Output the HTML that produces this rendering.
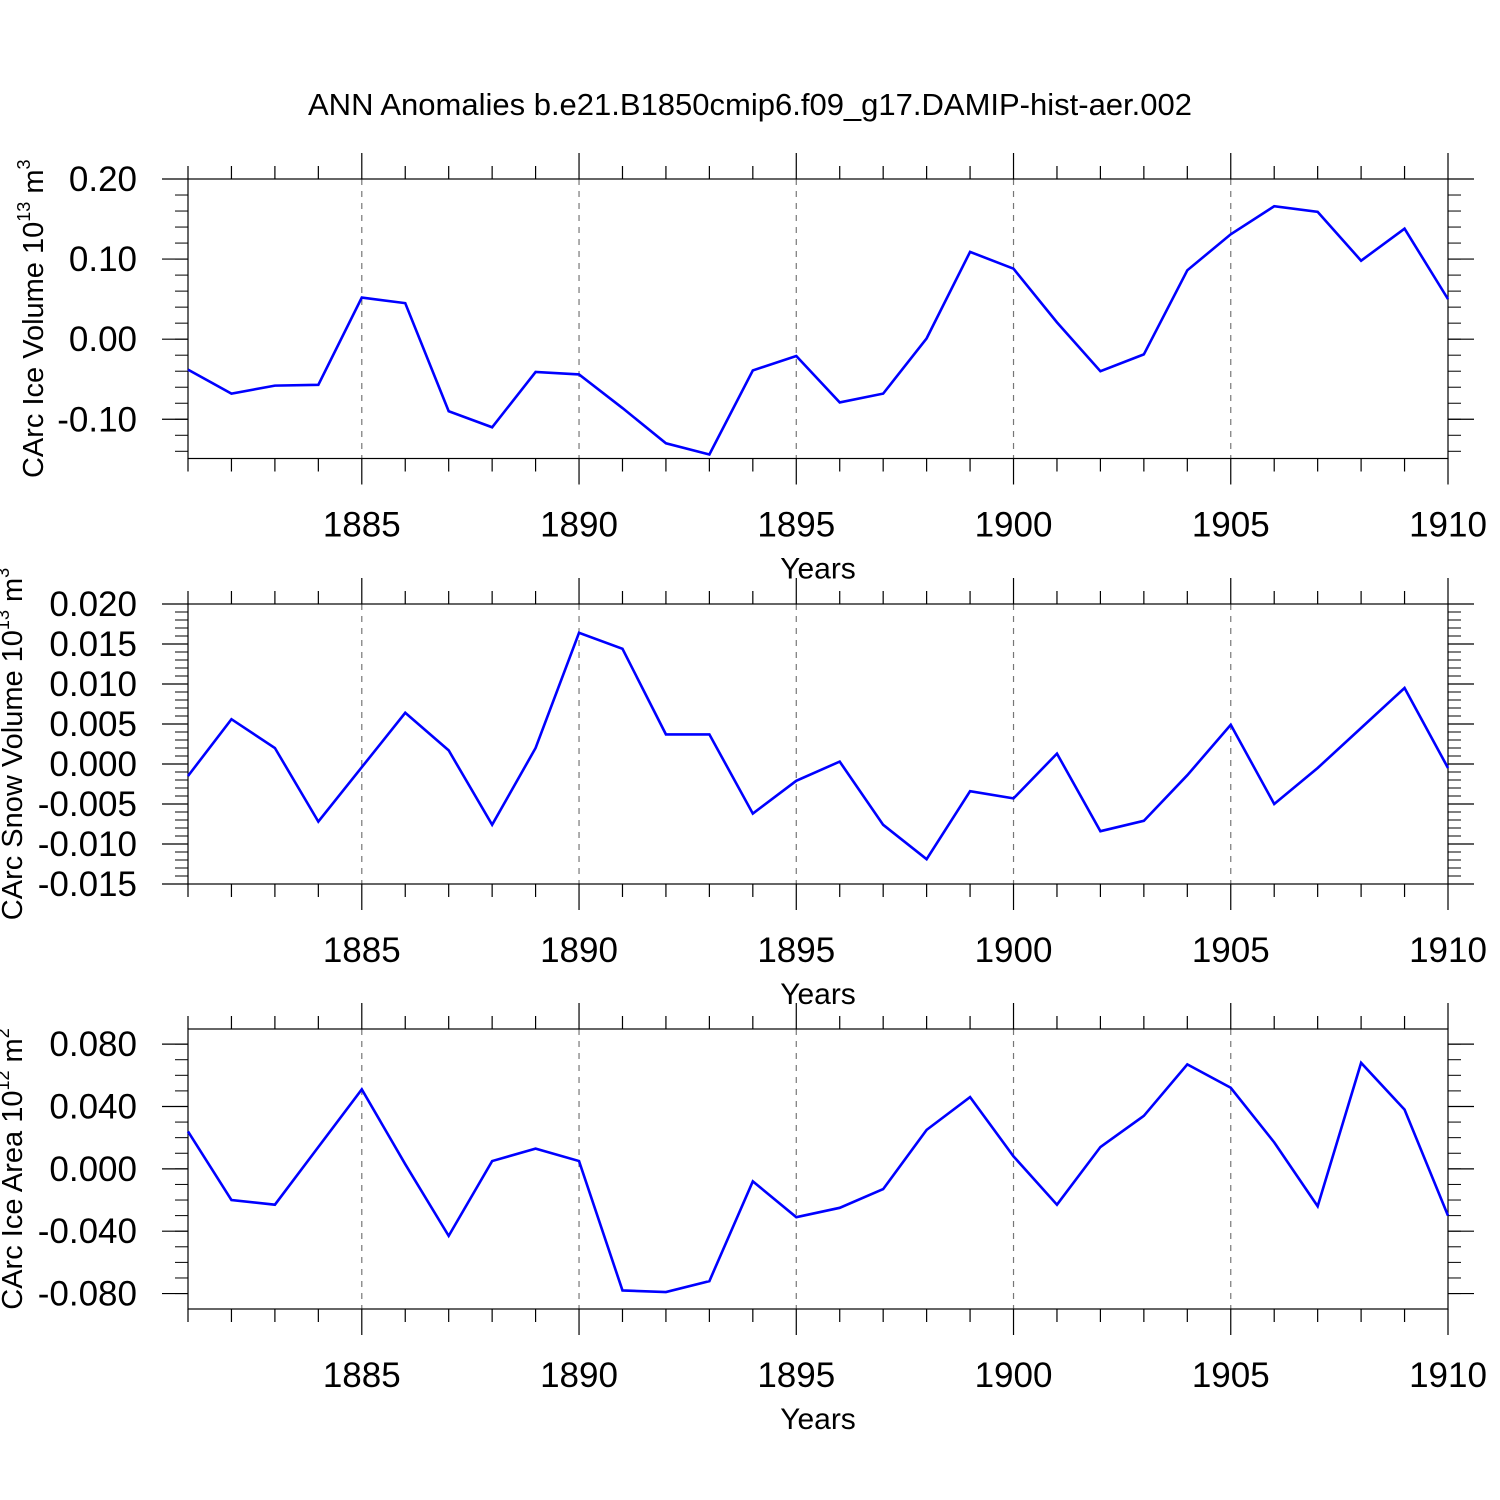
<!DOCTYPE html>
<html><head><meta charset="utf-8"><style>
html,body{margin:0;padding:0;background:#fff}
svg{display:block}
text{font-family:"Liberation Sans",sans-serif;fill:#000}
</style></head><body>
<svg id="chart" width="1500" height="1500" viewBox="0 0 1500 1500" xmlns="http://www.w3.org/2000/svg">
<text x="750" y="115" font-size="31" text-anchor="middle">ANN Anomalies b.e21.B1850cmip6.f09_g17.DAMIP-hist-aer.002</text>
</svg>
<script>
const years = [1881,1882,1883,1884,1885,1886,1887,1888,1889,1890,1891,1892,1893,1894,1895,1896,1897,1898,1899,1900,1901,1902,1903,1904,1905,1906,1907,1908,1909,1910];
const iceVolume = [-0.038,-0.068,-0.058,-0.057,0.052,0.045,-0.090,-0.110,-0.041,-0.044,-0.086,-0.130,-0.144,-0.039,-0.021,-0.079,-0.068,0.001,0.109,0.088,0.021,-0.040,-0.019,0.086,0.131,0.166,0.159,0.098,0.138,0.050];
const snowVolume = [-0.0015,0.0056,0.0020,-0.0072,-0.0004,0.0064,0.0017,-0.0076,0.0020,0.0164,0.0144,0.0037,0.0037,-0.0062,-0.0021,0.0003,-0.0076,-0.0119,-0.0034,-0.0043,0.0013,-0.0084,-0.0071,-0.0014,0.0049,-0.0050,-0.0005,0.0045,0.0095,-0.0005];
const iceArea = [0.024,-0.020,-0.023,0.014,0.051,0.003,-0.043,0.005,0.013,0.005,-0.078,-0.079,-0.072,-0.008,-0.031,-0.025,-0.013,0.025,0.046,0.008,-0.023,0.014,0.034,0.067,0.052,0.017,-0.024,0.068,0.038,-0.030];
const xTicks = [1885,1890,1895,1900,1905,1910];
const yTicks1 = [0.20,0.10,0.00,-0.10];
const yTicks1Labels = ["0.20","0.10","0.00","-0.10"];
const yTicks2 = [0.020,0.015,0.010,0.005,0.000,-0.005,-0.010,-0.015];
const yTicks2Labels = ["0.020","0.015","0.010","0.005","0.000","-0.005","-0.010","-0.015"];
const yTicks3 = [0.080,0.040,0.000,-0.040,-0.080];
const yTicks3Labels = ["0.080","0.040","0.000","-0.040","-0.080"];

const svg = document.getElementById('chart');
const NS = 'http://www.w3.org/2000/svg';
function mk(tag, attrs, parent){const e=document.createElementNS(NS,tag);for(const k in attrs)e.setAttribute(k,attrs[k]);(parent||svg).appendChild(e);return e;}

const X0=188, X1=1448, XMIN=1881, XMAX=1910;
function xs(v){return X0+(v-XMIN)/(XMAX-XMIN)*(X1-X0);}

function panel(name, top, bottom, ymin, ymax, values, ticks, labels, minorStep, ylabel, sup, unit, titleX){
  const g = mk('g',{});
  
  
  const ys = v => bottom-(v-ymin)/(ymax-ymin)*(bottom-top);
  xTicks.forEach(t=>{ if(t<XMAX){
    const l=mk('line',{x1:xs(t),x2:xs(t),y1:top,y2:bottom,stroke:'#777','stroke-width':1.2,'stroke-dasharray':'6,6'},g);
    
    
  }});
  const fr=mk('rect',{x:X0,y:top,width:X1-X0,height:bottom-top,fill:'none',stroke:'#000','stroke-width':1.2},g);
  
  
  for(let yr=XMIN; yr<=XMAX; yr++){
    const major = xTicks.includes(yr);
    const len = major?26:13;
    mk('line',{x1:xs(yr),x2:xs(yr),y1:top,y2:top-len,stroke:'#000','stroke-width':1.2},g);
    mk('line',{x1:xs(yr),x2:xs(yr),y1:bottom,y2:bottom+len,stroke:'#000','stroke-width':1.2},g);
  }
  xTicks.forEach(t=>{
    const tx=mk('text',{x:xs(t),y:bottom+78,'font-size':35,'text-anchor':'middle'},g);
    tx.textContent=t;
    
    
  });
  const xt=mk('text',{x:818,y:bottom+120,'font-size':30,'text-anchor':'middle'},g);
  xt.textContent='Years';
  
  
  const n0=Math.ceil(ymin/minorStep-1e-6), n1=Math.floor(ymax/minorStep+1e-6);
  for(let i=n0;i<=n1;i++){
    const v=i*minorStep, y=ys(v);
    mk('line',{x1:X0,x2:X0-13,y1:y,y2:y,stroke:'#000','stroke-width':1},g);
    mk('line',{x1:X1,x2:X1+13,y1:y,y2:y,stroke:'#000','stroke-width':1},g);
  }
  ticks.forEach((t,i)=>{
    const y=ys(t);
    mk('line',{x1:X0,x2:X0-26,y1:y,y2:y,stroke:'#000','stroke-width':1.2},g);
    mk('line',{x1:X1,x2:X1+26,y1:y,y2:y,stroke:'#000','stroke-width':1.2},g);
    const tx=mk('text',{x:137,y:y+12,'font-size':35,'text-anchor':'end'},g);
    tx.textContent=labels[i];
    
    
  });
  const cy=(top+bottom)/2;
  const yt=mk('text',{x:0,y:0,'font-size':29,'text-anchor':'middle',transform:`translate(${titleX} ${cy}) rotate(-90)`},g);
  
  
  const s1=mk('tspan',{},yt); s1.textContent=ylabel+' 10';
  const s2=mk('tspan',{'font-size':18,dy:-13},yt); s2.textContent=sup;
  const s3=mk('tspan',{dy:13},yt); s3.textContent=' m';
  const s4=mk('tspan',{'font-size':18,dy:-13},yt); s4.textContent=unit;
  const d=values.map((v,i)=>(i?'L':'M')+xs(years[i]).toFixed(2)+' '+ys(v).toFixed(2)).join(' ');
  const p=mk('path',{d:d,fill:'none',stroke:'#0000ff','stroke-width':2.6,'stroke-linejoin':'miter'},g);
  
  
}
panel('ice-volume',179,458.5,-0.149,0.20,iceVolume,yTicks1,yTicks1Labels,0.02,'CArc Ice Volume','13','3',43);
panel('snow-volume',604,884,-0.015,0.020,snowVolume,yTicks2,yTicks2Labels,0.001,'CArc Snow Volume','13','3',22);
panel('ice-area',1029,1309,-0.0899,0.0897,iceArea,yTicks3,yTicks3Labels,0.01,'CArc Ice Area','12','2',22);
</script>
</body></html>
